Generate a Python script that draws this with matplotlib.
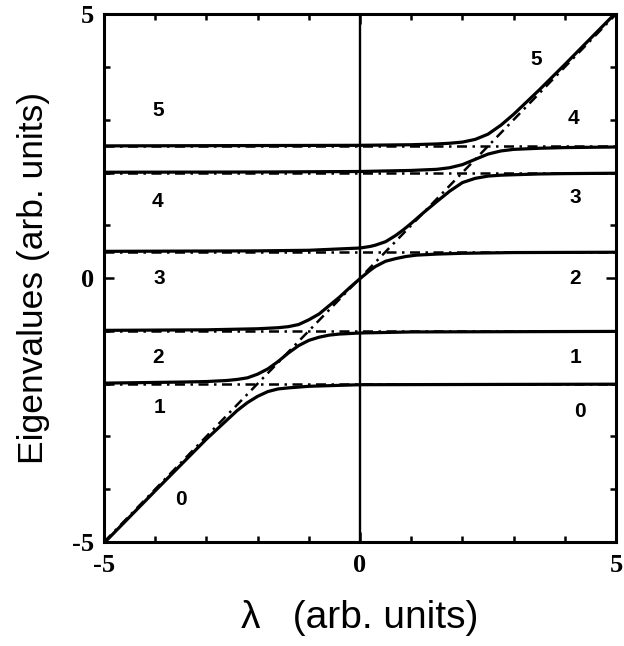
import matplotlib
matplotlib.use("Agg")
import matplotlib.pyplot as plt
from matplotlib.ticker import MultipleLocator

# unperturbed levels (dash-dot) and the crossing diagonal state
levels = [-2.0, -1.0, 0.5, 2.0, 2.5]
diag_x = [-5.0, 5.0]
diag_y = [-5.0, 5.0]

# adiabatic eigenvalue curves (lowest to highest)
curve0_x = [-5, -4, -3, -2.6, -2.4, -2.2, -2.0, -1.8, -1.6, -1.4, -1.0, 0, 5]
curve0_y = [-5.02, -4.03, -3.05, -2.69, -2.51, -2.36, -2.24, -2.15, -2.10, -2.08, -2.05, -2.02, -2.01]

curve1_x = [-5, -3.5, -3, -2.6, -2.4, -2.2, -2.0, -1.8, -1.6, -1.5, -1.4, -1.2, -1.0, -0.8, -0.6, -0.4, 0, 1, 5]
curve1_y = [-1.99, -1.97, -1.96, -1.94, -1.92, -1.89, -1.82, -1.72, -1.58, -1.50, -1.42, -1.28, -1.18,
            -1.12, -1.08, -1.06, -1.04, -1.02, -1.01]

curve2_x = [-5, -3, -2, -1.6, -1.4, -1.2, -1.0, -0.8, -0.6, -0.4, -0.2, 0, 0.2, 0.3, 0.5, 0.7, 0.9, 1.1,
            1.5, 2, 3, 5]
curve2_y = [-0.99, -0.98, -0.96, -0.94, -0.92, -0.88, -0.79, -0.68, -0.52, -0.36, -0.18, -0.01, 0.15,
            0.22, 0.32, 0.37, 0.41, 0.435, 0.455, 0.47, 0.484, 0.49]

curve3_x = [-5, -2, -1, 0, 0.2, 0.3, 0.5, 0.7, 0.85, 1.0, 1.25, 1.5, 1.75, 2.0, 2.25, 2.5, 2.75, 3.0,
            3.5, 4.0, 5]
curve3_y = [0.507, 0.516, 0.527, 0.57, 0.60, 0.624, 0.69, 0.81, 0.918, 1.037, 1.248, 1.45, 1.646, 1.81,
            1.89, 1.933, 1.95, 1.958, 1.973, 1.98, 1.987]

curve4_x = [-5, -2, 0, 1, 1.5, 1.75, 2.0, 2.25, 2.5, 2.75, 3.0, 3.5, 4, 5]
curve4_y = [2.006, 2.01, 2.02, 2.04, 2.061, 2.091, 2.15, 2.25, 2.35, 2.409, 2.439, 2.46, 2.473, 2.484]

curve5_x = [-5, 0, 1, 1.5, 1.75, 2.0, 2.25, 2.5, 2.75, 3.0, 3.5, 4, 5]
curve5_y = [2.505, 2.516, 2.527, 2.542, 2.555, 2.577, 2.628, 2.727, 2.896, 3.103, 3.565, 4.047, 5.03]

# state labels
left_labels = ["5", "4", "3", "2", "1", "0"]
left_pos = [(-3.95, 3.18), (-3.95, 1.45), (-3.92, 0.0), (-3.95, -1.5), (-3.92, -2.45), (-3.5, -4.2)]
right_labels = ["5", "4", "3", "2", "1", "0"]
right_pos = [(3.45, 4.15), (4.17, 3.02), (4.2, 1.52), (4.2, 0.0), (4.2, -1.5), (4.3, -2.52)]

ticks = [-5, 0, 5]
tick_labels = ["-5", "0", "5"]


def main():
    fig = plt.figure(figsize=(6.24, 6.46), dpi=100)
    ax = fig.add_axes([0.1667, 0.161, 0.8205, 0.817])

    # dash-dot: uncoupled states
    dashdot = (0, (4, 2.2, 1, 2.2))
    ax.plot(diag_x, diag_y, color="k", lw=1.8, ls=dashdot, zorder=2)
    for lev in levels:
        ax.plot([-5, 5], [lev, lev], color="k", lw=1.8, ls=dashdot, zorder=2)

    # solid: coupled eigenvalues
    curves = [(curve0_x, curve0_y), (curve1_x, curve1_y), (curve2_x, curve2_y),
              (curve3_x, curve3_y), (curve4_x, curve4_y), (curve5_x, curve5_y)]
    for cx, cy in curves:
        ax.plot(cx, cy, color="k", lw=2.3, solid_capstyle="butt", zorder=3)

    ax.axvline(0, color="k", lw=1.7, zorder=3)

    for lab, (x, y) in zip(left_labels + right_labels, left_pos + right_pos):
        ax.text(x, y, lab, ha="center", va="center", fontsize=15, fontweight="bold",
                family="Liberation Sans")

    ax.set_xlim(-5, 5)
    ax.set_ylim(-5, 5)
    ax.set_xticks(ticks)
    ax.set_yticks(ticks)
    ax.set_xticklabels(tick_labels)
    ax.set_yticklabels(tick_labels)
    ax.xaxis.set_minor_locator(MultipleLocator(1))
    ax.yaxis.set_minor_locator(MultipleLocator(1))
    ax.tick_params(which="both", direction="in", top=True, right=True, width=1.8, color="k")
    ax.tick_params(which="major", length=7)
    ax.tick_params(which="minor", length=4.5)
    ax.tick_params(axis="x", pad=9)
    ax.tick_params(axis="y", pad=7)
    for lbl in ax.get_xticklabels() + ax.get_yticklabels():
        lbl.set_family("Liberation Serif")
        lbl.set_fontweight("bold")
        lbl.set_fontsize(19)

    for sp in ax.spines.values():
        sp.set_linewidth(2.2)

    ax.set_xlabel("λ   (arb. units)", fontsize=28, family="Liberation Sans", labelpad=16)
    ax.set_ylabel("Eigenvalues (arb. units)", fontsize=25.5, family="Liberation Sans", labelpad=16)

    fig.savefig("out.png", dpi=100)
    plt.close(fig)


if __name__ == "__main__":
    main()
